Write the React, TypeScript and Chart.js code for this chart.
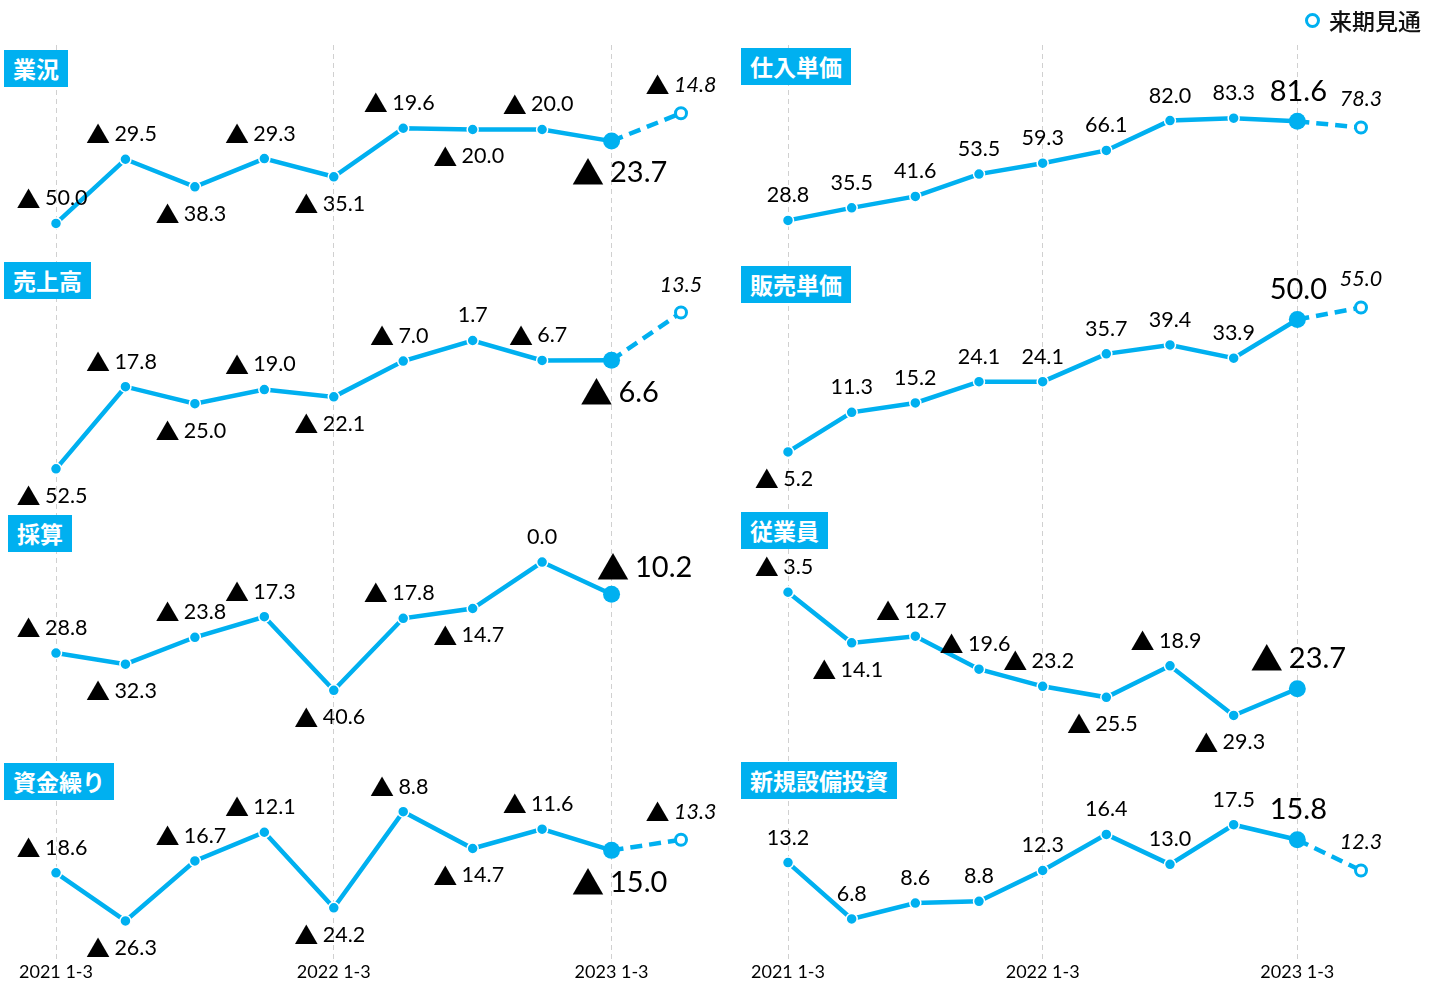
import React, { useEffect, useRef } from 'react';
import { Chart, registerables } from 'chart.js';

Chart.register(...registerables);

// ---- data ----
const quarters = [
  '2021 1-3', '2021 4-6', '2021 7-9', '2021 10-12',
  '2022 1-3', '2022 4-6', '2022 7-9', '2022 10-12',
  '2023 1-3', '来期見通',
];

const gyokyo = [-50.0, -29.5, -38.3, -29.3, -35.1, -19.6, -20.0, -20.0, -23.7, -14.8];
const uriage = [-52.5, -17.8, -25.0, -19.0, -22.1, -7.0, 1.7, -6.7, -6.6, 13.5];
const saisan = [-28.8, -32.3, -23.8, -17.3, -40.6, -17.8, -14.7, 0.0, -10.2];
const shikin = [-18.6, -26.3, -16.7, -12.1, -24.2, -8.8, -14.7, -11.6, -15.0, -13.3];
const shiire = [28.8, 35.5, 41.6, 53.5, 59.3, 66.1, 82.0, 83.3, 81.6, 78.3];
const hanbai = [-5.2, 11.3, 15.2, 24.1, 24.1, 35.7, 39.4, 33.9, 50.0, 55.0];
const jugyoin = [-3.5, -14.1, -12.7, -19.6, -23.2, -25.5, -18.9, -29.3, -23.7];
const setsubi = [13.2, 6.8, 8.6, 8.8, 12.3, 16.4, 13.0, 17.5, 15.8, 12.3];

const titles = {
  gyokyo: '業況', uriage: '売上高', saisan: '採算', shikin: '資金繰り',
  shiire: '仕入単価', hanbai: '販売単価', jugyoin: '従業員', setsubi: '新規設備投資',
};
const legendLabel = '来期見通';

// ---- presentation ----
const CYAN = '#00B0F0';
const FONT = 'Lato, "Noto Sans CJK JP", sans-serif';
const TRI_FONT = '"Noto Sans CJK JP", sans-serif';
const FORECAST_INDEX = 9;

type Panel = {
  title: string;
  values: number[];
  labelPos: string[];
  min: number;
  max: number;
  boxLeft: number;
  boxTop: number;
};

const leftPanels: Panel[] = [
  { title: titles.gyokyo, values: gyokyo, labelPos: ['a', 'a', 'b', 'a', 'b', 'a', 'b', 'a', 'B', 'f'], min: -66, max: 7, boxLeft: 4, boxTop: 50 },
  { title: titles.uriage, values: uriage, labelPos: ['b', 'a', 'b', 'a', 'b', 'a', 'a', 'a', 'B', 'f'], min: -66.5, max: 30, boxLeft: 4, boxTop: 262 },
  { title: titles.saisan, values: saisan, labelPos: ['a', 'b', 'a', 'a', 'b', 'a', 'b', 'a', 'R'], min: -53.3, max: 19, boxLeft: 8, boxTop: 515 },
  { title: titles.shikin, values: shikin, labelPos: ['a', 'b', 'a', 'a', 'b', 'a', 'b', 'a', 'B', 'f'], min: -32.4, max: 4.2, boxLeft: 4, boxTop: 763 },
];

const rightPanels: Panel[] = [
  { title: titles.shiire, values: shiire, labelPos: ['a', 'a', 'a', 'a', 'a', 'a', 'a', 'a', 'A', 'f'], min: 0.5, max: 122.3, boxLeft: 741, boxTop: 48 },
  { title: titles.hanbai, values: hanbai, labelPos: ['b', 'a', 'a', 'a', 'a', 'a', 'a', 'a', 'A', 'f'], min: -26.1, max: 69.2, boxLeft: 741, boxTop: 266 },
  { title: titles.jugyoin, values: jugyoin, labelPos: ['a', 'b', 'a', 'a', 'a', 'b', 'a', 'b', 'A'], min: -32.45, max: 15.4, boxLeft: 741, boxTop: 512 },
  { title: titles.setsubi, values: setsubi, labelPos: ['a', 'a', 'a', 'a', 'a', 'a', 'a', 'a', 'A', 'f'], min: 2.25, max: 28.2, boxLeft: 741, boxTop: 762 },
];

const isYearTick = (i: number) => (quarters[i] || '').endsWith('1-3');

function drawValue(ctx: CanvasRenderingContext2D, v: number, cx: number, cy: number, size: number, italic: boolean) {
  const num = Math.abs(v).toFixed(1);
  const numFont = `${italic ? 'italic ' : ''}${size}px ${FONT}`;
  if (v >= 0) {
    ctx.font = numFont;
    ctx.textAlign = 'center';
    ctx.fillText(num, cx, cy);
    return;
  }
  const triSize = size * 1.12;
  const triFont = `${triSize}px ${TRI_FONT}`;
  ctx.font = triFont;
  const tw = ctx.measureText('▲').width;
  ctx.font = numFont;
  const gap = size * 0.2;
  const nw = ctx.measureText(num).width;
  const total = tw + gap + nw;
  const x0 = cx - total / 2;
  ctx.textAlign = 'left';
  ctx.font = triFont;
  ctx.fillText('▲', x0, cy);
  ctx.font = numFont;
  ctx.fillText(num, x0 + tw + gap, cy);
}

const labelPlugin = {
  id: 'pointValueLabels',
  afterDatasetsDraw(chart: any) {
    const ctx = chart.ctx;
    ctx.save();
    ctx.fillStyle = '#000';
    ctx.textBaseline = 'middle';
    chart.data.datasets.forEach((ds: any, di: number) => {
      const meta = chart.getDatasetMeta(di);
      meta.data.forEach((pt: any, i: number) => {
        const v = ds.data[i];
        if (v === null || v === undefined) return;
        const p = ds.labelPos[i] || 'a';
        const big = p === 'A' || p === 'B' || p === 'R';
        let dx = v < 0 ? -4 : 0;
        let dy = -25;
        if (p === 'b') dy = 27;
        if (p === 'f') { dy = -28; dx = 0; }
        if (p === 'A') { dy = -30; dx = 1; }
        if (p === 'B') { dy = 32; dx = 8; }
        if (p === 'R') { dy = -27; dx = 33; }
        drawValue(ctx, v, pt.x + dx, pt.y + dy, big ? 29 : 21.5, p === 'f');
      });
    });
    ctx.restore();
  },
};

function ColumnChart({ panels, left, width, padLeft, padRight }: {
  panels: Panel[]; left: number; width: number; padLeft: number; padRight: number;
}) {
  const ref = useRef<HTMLCanvasElement>(null);
  useEffect(() => {
    if (!ref.current) return;
    const scales: any = {
      x: {
        type: 'category',
        offset: false,
        grid: {
          drawTicks: false,
          lineWidth: 1,
          color: (c: any) => (isYearTick(c.index) ? '#d0d0d0' : 'rgba(0,0,0,0)'),
        },
        border: { display: false, dash: [5, 4] },
        ticks: {
          autoSkip: false,
          maxRotation: 0,
          padding: 4,
          color: '#000',
          font: { family: FONT, size: 18, lineHeight: 1 },
          callback: (_v: any, i: number) => (isYearTick(i) ? quarters[i] : ''),
        },
      },
    };
    panels.forEach((p, k) => {
      scales['y' + k] = {
        type: 'linear',
        display: false,
        position: 'left',
        stack: 'col',
        stackWeight: 1,
        weight: panels.length - k,
        min: p.min,
        max: p.max,
      };
    });
    const datasets = panels.map((p, k) => ({
      label: p.title,
      data: p.values,
      labelPos: p.labelPos,
      yAxisID: 'y' + k,
      borderColor: CYAN,
      borderWidth: 4.5,
      clip: false,
      tension: 0,
      pointRadius: (c: any) => (c.dataIndex === FORECAST_INDEX ? 5.5 : c.dataIndex === 8 ? 8.5 : 5.5),
      pointBackgroundColor: (c: any) => (c.dataIndex === FORECAST_INDEX ? '#fff' : CYAN),
      pointBorderColor: (c: any) => (c.dataIndex === FORECAST_INDEX ? CYAN : '#fff'),
      pointBorderWidth: (c: any) => (c.dataIndex === FORECAST_INDEX ? 3 : c.dataIndex === 8 ? 0 : 1.5),
      segment: {
        borderDash: (c: any) => (c.p1DataIndex === FORECAST_INDEX ? [12, 7] : undefined),
      },
    }));
    const chart = new Chart(ref.current, {
      type: 'line',
      data: { labels: quarters, datasets: datasets as any },
      options: {
        animation: false,
        responsive: true,
        maintainAspectRatio: false,
        layout: { padding: { left: padLeft, right: padRight, top: 45, bottom: -4 } },
        plugins: { legend: { display: false }, tooltip: { enabled: false } },
        scales,
      },
      plugins: [labelPlugin],
    });
    return () => chart.destroy();
  }, []);
  return (
    <div style={{ position: 'absolute', left, top: 0, width, height: 981 }}>
      <canvas ref={ref} />
    </div>
  );
}

function TitleBox({ p }: { p: Panel }) {
  return (
    <div
      style={{
        position: 'absolute',
        left: p.boxLeft,
        top: p.boxTop,
        height: 37,
        lineHeight: '37px',
        padding: '0 9px',
        background: CYAN,
        color: '#fff',
        fontWeight: 700,
        fontSize: 23,
        fontFamily: '"Noto Sans CJK JP", sans-serif',
        whiteSpace: 'nowrap',
      }}
    >
      {p.title}
    </div>
  );
}

export default function App() {
  return (
    <div style={{ position: 'absolute', left: 0, top: 0, width: 1439, height: 981, background: '#fff', overflow: 'hidden' }}>
      <ColumnChart panels={leftPanels} left={0} width={720} padLeft={56} padRight={39} />
      <ColumnChart panels={rightPanels} left={720} width={719} padLeft={68} padRight={78} />
      {[...leftPanels, ...rightPanels].map((p) => <TitleBox key={p.title} p={p} />)}
      <div style={{ position: 'absolute', left: 1305, top: 3, display: 'flex', alignItems: 'center', fontFamily: '"Noto Sans CJK JP", sans-serif', fontSize: 23, fontWeight: 500, color: '#111' }}>
        <span style={{ display: 'inline-block', width: 9, height: 9, border: `3px solid ${CYAN}`, borderRadius: '50%', marginRight: 9 }} />
        <span>{legendLabel}</span>
      </div>
    </div>
  );
}
